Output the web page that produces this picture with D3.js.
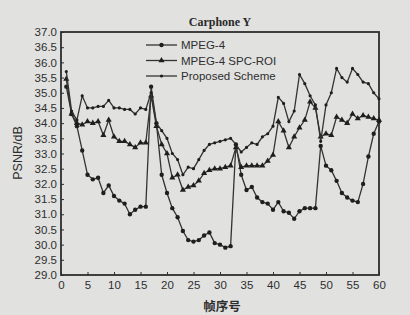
<!DOCTYPE html>
<html lang="zh">
<head>
<meta charset="UTF-8">
<title>Carphone Y</title>
<script src="https://d3js.org/d3.v7.min.js"></script>
<style>
  body { margin: 0; background: #e1e1df; }
  svg { display: block; }
  .tick-label { font-family: "Liberation Sans", Arial, sans-serif; font-size: 11.5px; fill: #2e2e2e; }
</style>
</head>
<body>
<svg id="chart" width="410" height="315"></svg>
<script>
// frame numbers 1..60
const frames = d3.range(1, 61);

const mpeg4 = [
  35.2, 34.3, 33.9, 33.1, 32.3, 32.15, 32.2, 31.7, 31.95, 31.6, 31.45, 31.35, 31.0, 31.15, 31.25, 31.25,
  35.2, 34.0, 32.3, 31.7, 31.2, 30.9, 30.45, 30.15, 30.1, 30.15, 30.3, 30.4, 30.05, 30.0, 29.9, 29.95,
  33.3, 32.3, 31.8, 31.9, 31.55, 31.4, 31.35, 31.15, 31.4, 31.1, 31.05, 30.85, 31.1, 31.2, 31.2, 31.2,
  33.25, 32.6, 32.45, 32.1, 31.7, 31.55, 31.45, 31.4, 32.0, 32.9, 33.65, 34.05
];
const spcRoi = [
  35.45, 34.3, 34.0, 33.95, 34.05, 34.0, 34.05, 33.6, 34.1, 33.55, 33.4, 33.4, 33.3, 33.2, 33.35, 33.35,
  34.9, 33.9, 33.3, 33.0, 32.2, 32.3, 31.8, 31.9, 31.95, 32.1, 32.35, 32.45, 32.5, 32.5, 32.55, 32.6,
  33.2, 32.55, 32.6, 32.6, 32.6, 32.6, 32.75, 32.95, 34.05, 33.75, 33.2, 33.55, 33.85, 34.1, 34.7, 34.5,
  33.55, 33.65, 33.6, 34.2, 34.1, 34.0, 34.3, 34.15, 34.25, 34.2, 34.15, 34.1
];
const proposed = [
  35.7, 34.4, 34.1, 34.9, 34.5, 34.5, 34.55, 34.55, 34.75, 34.5, 34.5, 34.45, 34.45, 34.3, 34.5, 34.45,
  35.0, 34.0, 33.75, 33.5, 33.0, 32.8, 32.3, 32.55, 32.5, 32.8, 33.1, 33.3, 33.35, 33.4, 33.45, 33.5,
  33.3, 33.05, 33.2, 33.35, 33.3, 33.55, 33.65, 33.9, 34.85, 34.65, 34.05, 34.4, 35.6, 35.3, 34.9, 34.6,
  33.4, 34.6, 35.0, 35.8, 35.5, 35.35, 35.8, 35.6, 35.35, 35.3, 35.0, 34.8
];

const seriesNames = ["MPEG-4", "MPEG-4 SPC-ROI", "Proposed Scheme"];
const xTicks = d3.range(0, 61, 5);
const yTicks = d3.range(29, 37.01, 0.5);

const svg = d3.select("#chart");
const margin = { top: 32, right: 31, bottom: 40, left: 61 };
const W = 410, H = 315;

const x = d3.scaleLinear().domain([0, 60]).range([margin.left, W - margin.right]);
const y = d3.scaleLinear().domain([29, 37]).range([H - margin.bottom, margin.top]);

const ink = "#2e2e2e";

// y axis
const yAxis = svg.append("g")
  .attr("transform", `translate(${margin.left},0)`)
  .call(d3.axisLeft(y).tickValues(yTicks).tickFormat(d3.format(".1f")).tickSizeInner(-3).tickSizeOuter(0).tickPadding(4));
yAxis.select(".domain").remove();
yAxis.selectAll("line").attr("stroke", ink).attr("stroke-width", 1);
yAxis.selectAll("text").attr("class", "tick-label").attr("font-size", null).attr("font-family", null).attr("fill", null);

// x axis
const xAxis = svg.append("g")
  .attr("transform", `translate(0,${H - margin.bottom})`)
  .call(d3.axisBottom(x).tickValues(xTicks).tickSizeInner(-3).tickSizeOuter(0).tickPadding(6));
xAxis.select(".domain").remove();
xAxis.selectAll("line").attr("stroke", ink).attr("stroke-width", 1);
xAxis.selectAll("text").attr("class", "tick-label").attr("font-size", null).attr("font-family", null).attr("fill", null);

// frame box
svg.append("rect")
  .attr("x", margin.left).attr("y", margin.top)
  .attr("width", W - margin.left - margin.right)
  .attr("height", H - margin.top - margin.bottom)
  .attr("fill", "none").attr("stroke", ink).attr("stroke-width", 1.8);

const line = d3.line().x((d, i) => x(frames[i])).y(d => y(d));

const symbols = [
  d3.symbol().type(d3.symbolCircle).size(15),
  d3.symbol().type(d3.symbolTriangle).size(16),
  d3.symbol().type(d3.symbolCircle).size(8)
];
const allSeries = [mpeg4, spcRoi, proposed];

allSeries.forEach((vals, s) => {
  svg.append("path")
    .attr("d", line(vals))
    .attr("fill", "none")
    .attr("stroke", "#333")
    .attr("stroke-width", 1.3);
  svg.append("g").selectAll("path")
    .data(vals)
    .join("path")
    .attr("transform", (d, i) => `translate(${x(frames[i])},${y(d)})`)
    .attr("d", symbols[s]())
    .attr("fill", "#1e1e1e");
});

// legend
const legend = svg.append("g");
seriesNames.forEach((name, i) => {
  const ly = 45 + i * 15.5;
  legend.append("line")
    .attr("x1", 146).attr("x2", 177).attr("y1", ly).attr("y2", ly)
    .attr("stroke", "#333").attr("stroke-width", 1.3);
  legend.append("path")
    .attr("transform", `translate(161.5,${ly})`)
    .attr("d", symbols[i]())
    .attr("fill", "#1e1e1e");
  legend.append("text")
    .attr("x", 181).attr("y", ly + 4)
    .attr("font-family", "Liberation Sans, Arial, sans-serif")
    .attr("font-size", 11.5)
    .attr("fill", "#2e2e2e")
    .text(name);
});

// title
svg.append("text")
  .attr("x", 220).attr("y", 26)
  .attr("text-anchor", "middle")
  .attr("font-family", "Liberation Serif, Times New Roman, serif")
  .attr("font-weight", "bold")
  .attr("font-size", 12)
  .attr("fill", "#2a2a2a")
  .text("Carphone Y");

// axis titles
svg.append("text")
  .attr("transform", "translate(22,153) rotate(-90)")
  .attr("text-anchor", "middle")
  .attr("font-family", "Liberation Sans, Arial, sans-serif")
  .attr("font-size", 12.5)
  .attr("fill", "#2e2e2e")
  .text("PSNR/dB");

svg.append("text")
  .attr("x", 222).attr("y", 311)
  .attr("text-anchor", "middle")
  .attr("font-family", "Noto Sans CJK SC, sans-serif")
  .attr("font-weight", "bold")
  .attr("font-size", 12.5)
  .attr("fill", "#2e2e2e")
  .text("帧序号");
</script>
</body>
</html>
